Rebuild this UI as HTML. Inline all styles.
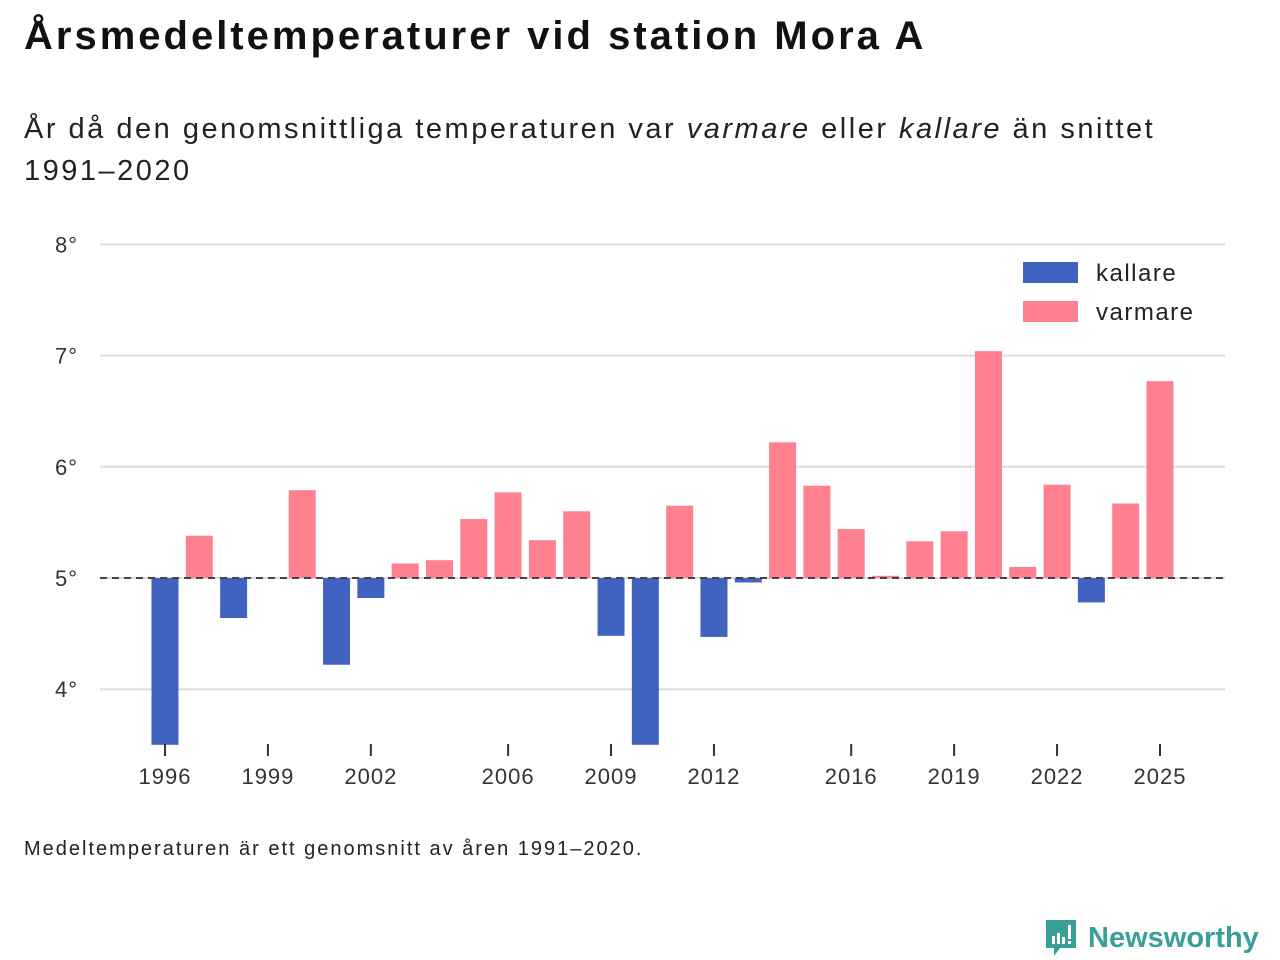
<!DOCTYPE html>
<html><head><meta charset="utf-8"><style>
body{margin:0;width:1280px;height:960px;background:#fff;font-family:"Liberation Sans","DejaVu Sans",sans-serif;color:#111;overflow:hidden;position:relative}
#title{position:absolute;left:24px;top:14px;font-size:40px;font-weight:bold;margin:0;letter-spacing:3px}
#sub{position:absolute;left:24px;top:108px;font-size:29px;line-height:42px;color:#222;margin:0;width:1240px;letter-spacing:2.5px}
#note{position:absolute;left:24px;top:838px;font-size:20px;color:#222;letter-spacing:2px}
#logo{position:absolute;left:1044px;top:918px;display:flex;align-items:center;gap:10px;color:#3a9f98;font-size:29px;font-weight:bold}
</style></head><body>
<h1 id="title">Årsmedeltemperaturer vid station Mora A</h1>
<p id="sub">År då den genomsnittliga temperaturen var <i>varmare</i> eller <i>kallare</i> än snittet<br>1991–2020</p>
<svg id="chart" width="1280" height="960" style="position:absolute;left:0;top:0"></svg>
<div id="note">Medeltemperaturen är ett genomsnitt av åren 1991–2020.</div>
<div id="logo">
<svg width="34" height="40" viewBox="0 0 34 40"><path d="M2 2h30v28H16l-6 8v-8H2z" fill="#3a9f98"/><rect x="8" y="18" width="3" height="8" fill="#fff"/><rect x="13" y="15" width="3" height="11" fill="#fff"/><rect x="18" y="19" width="3" height="7" fill="#fff"/><rect x="24" y="7" width="3" height="14" fill="#fff"/><rect x="24" y="23" width="3" height="3" fill="#fff"/></svg>
<span>Newsworthy</span></div>
<script>
const years=[1996,1997,1998,1999,2000,2001,2002,2003,2004,2005,2006,2007,2008,2009,2010,2011,2012,2013,2014,2015,2016,2017,2018,2019,2020,2021,2022,2023,2024,2025];
const temps=[3.4,5.38,4.64,null,5.79,4.22,4.82,5.13,5.16,5.53,5.77,5.34,5.60,4.48,3.4,5.65,4.47,4.96,6.22,5.83,5.44,5.02,5.33,5.42,7.04,5.10,5.84,4.78,5.67,6.77];
const yTicks=[4,5,6,7,8];
const xTicks=[1996,1999,2002,2006,2009,2012,2016,2019,2022,2025];
const baseline=5;
const NS='http://www.w3.org/2000/svg';
const svg=document.getElementById('chart');
const yMin=3.5;
const y=v=>578-(v-5)*111.2;
const x=yr=>165+(yr-1996)*34.31;
function mk(t,a){const e=document.createElementNS(NS,t);for(const k in a)e.setAttribute(k,a[k]);svg.appendChild(e);return e;}
yTicks.forEach(t=>{
 const g=mk('line',{x1:100,x2:1225,y1:y(t),y2:y(t),stroke:'#ddd','stroke-width':2});
 
 
 const l=mk('text',{x:78,y:y(t)+8,'text-anchor':'end','font-size':22,fill:'#333','font-family':'Liberation Sans, sans-serif','letter-spacing':1});
 l.textContent=t+'°';
 
 
});
years.forEach((yr,i)=>{
 const v=temps[i]; if(v==null)return;
 const vv=Math.max(v,yMin);
 const top=Math.min(y(vv),y(baseline)), h=Math.abs(y(vv)-y(baseline));
 const r=mk('rect',{x:x(yr)-13.5,y:top,width:27,height:h,fill:v<baseline?'#4063bf':'#ff808e'});
 
 
});
const bl=mk('line',{x1:100,x2:1225,y1:y(baseline),y2:y(baseline),stroke:'#444','stroke-width':2,'stroke-dasharray':'7,5'});


xTicks.forEach(t=>{
 const tk=mk('line',{x1:x(t),x2:x(t),y1:744,y2:756,stroke:'#333','stroke-width':2});
 
 
 const l=mk('text',{x:x(t),y:784,'text-anchor':'middle','font-size':22,fill:'#333','font-family':'Liberation Sans, sans-serif','letter-spacing':1});
 l.textContent=t;
 
 
});
[['kallare','#4063bf',262],['varmare','#ff808e',301]].forEach(([n,c,yy])=>{
 const r=mk('rect',{x:1023,y:yy,width:55,height:21,fill:c});
 
 
 const t=mk('text',{x:1096,y:yy+19,'font-size':24,fill:'#222','font-family':'Liberation Sans, sans-serif','letter-spacing':1.5});
 t.textContent=n;
 
 
});
</script>
</body></html>
